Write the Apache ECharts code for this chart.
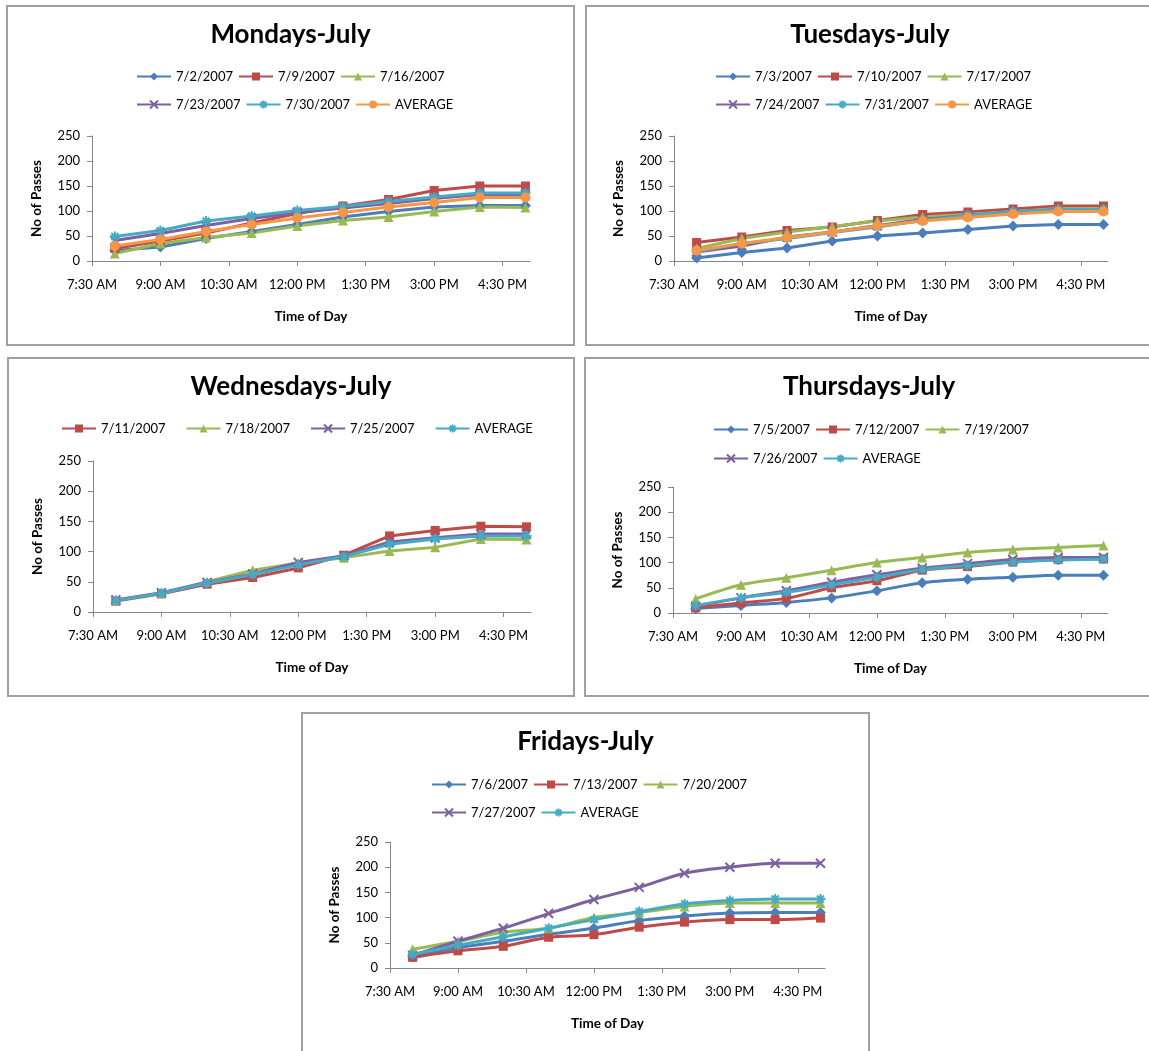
<!DOCTYPE html>
<html><head><meta charset="utf-8">
<script src="https://cdn.jsdelivr.net/npm/echarts@6/dist/echarts.min.js"></script>
<style>
html,body{margin:0;padding:0;background:#fff;overflow:hidden;width:1149px;height:1051px;}
.frame{position:absolute;box-sizing:border-box;border:2px solid #a0a0a0;background:#fff;}
.chart{position:absolute;}
</style></head><body>
<div class="frame" style="left:6px;top:5px;width:569px;height:341px"></div>
<div class="frame" style="left:585px;top:5px;width:570px;height:341px"></div>
<div class="frame" style="left:7px;top:357px;width:568px;height:340px"></div>
<div class="frame" style="left:584px;top:357px;width:570px;height:340px"></div>
<div class="frame" style="left:301px;top:712px;width:569px;height:345px"></div>
<div id="mon" class="chart" style="left:6px;top:5px;width:569px;height:341px"></div>
<div id="tue" class="chart" style="left:585px;top:5px;width:570px;height:341px"></div>
<div id="wed" class="chart" style="left:7px;top:357px;width:568px;height:340px"></div>
<div id="thu" class="chart" style="left:584px;top:357px;width:570px;height:340px"></div>
<div id="fri" class="chart" style="left:301px;top:712px;width:569px;height:339px"></div>
<script>
// ---- data ----
const hours = [8, 9, 10, 11, 12, 13, 14, 15, 16, 17];
const tickValues = [7.5, 9, 10.5, 12, 13.5, 15, 16.5];
const tickLabels = ['7:30 AM', '9:00 AM', '10:30 AM', '12:00 PM', '1:30 PM', '3:00 PM', '4:30 PM'];

const mon_0702 = [21, 28, 45, 59, 73, 88, 99, 108, 111, 111];
const mon_0709 = [25, 40, 56, 76, 95, 110, 123, 141, 150, 150];
const mon_0716 = [15, 35, 47, 56, 70, 81, 88, 99, 108, 107];
const mon_0723 = [41, 55, 71, 85, 97, 106, 115, 125, 133, 133];
const mon_0730 = [49, 61, 80, 90, 101, 109, 119, 128, 136, 136];
const mon_avg  = [30, 43, 59, 73, 86, 97, 108, 117, 127, 127];

const tue_0703 = [6, 17, 26, 40, 50, 56, 63, 70, 73, 73];
const tue_0710 = [37, 48, 61, 68, 81, 93, 98, 104, 110, 110];
const tue_0717 = [25, 45, 58, 69, 80, 88, 93, 99, 105, 105];
const tue_0724 = [18, 30, 48, 58, 71, 83, 91, 98, 103, 103];
const tue_0731 = [19, 35, 45, 57, 68, 81, 91, 99, 103, 103];
const tue_avg  = [21, 35, 47, 58, 70, 80, 87, 94, 99, 99];

const wed_0711 = [18, 30, 46, 57, 73, 94, 126, 135, 142, 141];
const wed_0718 = [20, 31, 50, 69, 81, 90, 101, 107, 121, 120];
const wed_0725 = [20, 32, 49, 63, 82, 93, 116, 123, 129, 129];
const wed_avg  = [19, 31, 48, 62, 78, 92, 112, 121, 126, 126];

const thu_0705 = [9, 15, 21, 30, 44, 60, 67, 71, 75, 75];
const thu_0712 = [10, 20, 29, 50, 64, 85, 92, 101, 106, 107];
const thu_0719 = [28, 56, 70, 85, 100, 110, 120, 126, 130, 134];
const thu_0726 = [13, 30, 44, 61, 76, 89, 98, 106, 110, 110];
const thu_avg  = [15, 30, 41, 56, 71, 86, 94, 101, 105, 107];

const fri_0706 = [23, 40, 53, 67, 79, 94, 103, 109, 110, 110];
const fri_0713 = [21, 34, 43, 61, 66, 81, 91, 96, 96, 99];
const fri_0720 = [37, 53, 71, 79, 100, 110, 122, 129, 129, 129];
const fri_0727 = [25, 53, 79, 108, 136, 160, 188, 200, 208, 208];
const fri_avg  = [27, 45, 62, 79, 96, 112, 127, 134, 137, 137];

// ---- styles ----
const FONT = 'Lato, "Open Sans", sans-serif';
const X_PATH = 'path://M0,0L10,10M10,0L0,10';
const STAR_PATH = 'path://M0,5L10,5M5,0L5,10M1.5,1.5L8.5,8.5M8.5,1.5L1.5,8.5';
const STY = {
  blue:   {color: '#4A7EBB', symbol: 'diamond', size: 11},
  red:    {color: '#BE4B48', symbol: 'rect', size: 9},
  green:  {color: '#98B954', symbol: 'triangle', size: 10},
  purple: {color: '#7D60A0', symbol: X_PATH, size: 9, stroke: true},
  cyan:   {color: '#46AAC5', symbol: STAR_PATH, size: 10, stroke: true},
  orange: {color: '#F79646', symbol: 'circle', size: 10}
};

function pairs(vals) { return hours.map((h, i) => [h, vals[i]]); }
function labelFor(v) {
  const i = tickValues.findIndex(t => Math.abs(t - v) < 1e-6);
  return i >= 0 ? tickLabels[i] : '';
}

function makeOption(cfg) {
  const series = cfg.series.map(s => {
    const st = STY[s.style];
    return {
      type: 'line', name: s.name, data: pairs(s.data),
      symbol: st.symbol, symbolSize: st.size, showSymbol: true,
      smooth: cfg.smooth || false,
      lineStyle: {color: st.color, width: 3},
      itemStyle: st.stroke ? {color: 'transparent', borderColor: st.color, borderWidth: 2}
                           : {color: st.color, borderColor: st.color, borderWidth: 0},
      emphasis: {disabled: true},
      animation: false
    };
  });
  const legends = cfg.rows.map((row, k) => ({
    data: row, left: cfg.legendLeft, top: cfg.legendTops[k], orient: 'horizontal',
    padding: 0, itemGap: cfg.itemGap, itemWidth: 34, itemHeight: 10,
    selectedMode: false,
    textStyle: {fontFamily: FONT, fontSize: 13, color: '#000'}
  }));
  return {
    animation: false,
    title: {text: cfg.title, left: 'center', top: 17, padding: 0,
      textStyle: {fontFamily: FONT, fontSize: 26, fontWeight: 'bold', color: '#000'}},
    legend: legends,
    grid: {left: cfg.grid[0], top: cfg.grid[1], width: cfg.grid[2], height: cfg.grid[3], containLabel: false},
    xAxis: {
      type: 'value', min: 7.5, max: 17.1, interval: 1.5,
      name: 'Time of Day', nameLocation: 'middle', nameGap: 49,
      nameTextStyle: {fontFamily: FONT, fontSize: 13.5, fontWeight: 'bold', color: '#000'},
      axisLine: {show: true, lineStyle: {color: '#868686', width: 1}},
      axisTick: {show: true, length: 5, customValues: tickValues, lineStyle: {color: '#868686'}},
      axisLabel: {customValues: tickValues, formatter: labelFor, margin: 17,
        fontFamily: FONT, fontSize: 13, color: '#000'},
      splitLine: {show: false}
    },
    yAxis: {
      type: 'value', min: 0, max: 250, interval: 50,
      name: 'No of Passes', nameLocation: 'middle', nameGap: 48, nameRotate: 90,
      nameTextStyle: {fontFamily: FONT, fontSize: 13.5, fontWeight: 'bold', color: '#000'},
      axisLine: {show: true, lineStyle: {color: '#868686', width: 1}},
      axisTick: {show: true, length: 5, lineStyle: {color: '#868686'}},
      axisLabel: {margin: 12, fontFamily: FONT, fontSize: 13, color: '#000'},
      splitLine: {show: false}
    },
    series: series
  };
}

const panels = [
  {id: 'mon', title: 'Mondays-July', grid: [86, 131, 438, 125], legendLeft: 130, legendTops: [65, 93], itemGap: 5,
   rows: [['7/2/2007', '7/9/2007', '7/16/2007'], ['7/23/2007', '7/30/2007', 'AVERAGE']],
   series: [
     {name: '7/2/2007', data: mon_0702, style: 'blue'},
     {name: '7/9/2007', data: mon_0709, style: 'red'},
     {name: '7/16/2007', data: mon_0716, style: 'green'},
     {name: '7/23/2007', data: mon_0723, style: 'purple'},
     {name: '7/30/2007', data: mon_0730, style: 'cyan'},
     {name: 'AVERAGE', data: mon_avg, style: 'orange'}]},
  {id: 'tue', title: 'Tuesdays-July', grid: [89, 131, 434, 125], legendLeft: 130, legendTops: [65, 93], itemGap: 5,
   rows: [['7/3/2007', '7/10/2007', '7/17/2007'], ['7/24/2007', '7/31/2007', 'AVERAGE']],
   series: [
     {name: '7/3/2007', data: tue_0703, style: 'blue'},
     {name: '7/10/2007', data: tue_0710, style: 'red'},
     {name: '7/17/2007', data: tue_0717, style: 'green'},
     {name: '7/24/2007', data: tue_0724, style: 'purple'},
     {name: '7/31/2007', data: tue_0731, style: 'cyan'},
     {name: 'AVERAGE', data: tue_avg, style: 'orange'}]},
  {id: 'wed', title: 'Wednesdays-July', grid: [86, 104, 438, 151], legendLeft: 54, legendTops: [65], itemGap: 20,
   rows: [['7/11/2007', '7/18/2007', '7/25/2007', 'AVERAGE']],
   series: [
     {name: '7/11/2007', data: wed_0711, style: 'red'},
     {name: '7/18/2007', data: wed_0718, style: 'green'},
     {name: '7/25/2007', data: wed_0725, style: 'purple'},
     {name: 'AVERAGE', data: wed_avg, style: 'cyan'}]},
  {id: 'thu', title: 'Thursdays-July', grid: [89, 130, 435, 126], legendLeft: 129, legendTops: [66, 95], itemGap: 5, smooth: 0.3,
   rows: [['7/5/2007', '7/12/2007', '7/19/2007'], ['7/26/2007', 'AVERAGE']],
   series: [
     {name: '7/5/2007', data: thu_0705, style: 'blue'},
     {name: '7/12/2007', data: thu_0712, style: 'red'},
     {name: '7/19/2007', data: thu_0719, style: 'green'},
     {name: '7/26/2007', data: thu_0726, style: 'purple'},
     {name: 'AVERAGE', data: thu_avg, style: 'cyan'}]},
  {id: 'fri', title: 'Fridays-July', grid: [89, 130, 435, 126], legendLeft: 130, legendTops: [66, 94], itemGap: 5, smooth: 0.3,
   rows: [['7/6/2007', '7/13/2007', '7/20/2007'], ['7/27/2007', 'AVERAGE']],
   series: [
     {name: '7/6/2007', data: fri_0706, style: 'blue'},
     {name: '7/13/2007', data: fri_0713, style: 'red'},
     {name: '7/20/2007', data: fri_0720, style: 'green'},
     {name: '7/27/2007', data: fri_0727, style: 'purple'},
     {name: 'AVERAGE', data: fri_avg, style: 'cyan'}]}
];

panels.forEach(p => {
  const chart = echarts.init(document.getElementById(p.id), null, {renderer: 'canvas'});
  chart.setOption(makeOption(p));
});
</script>
</body></html>
